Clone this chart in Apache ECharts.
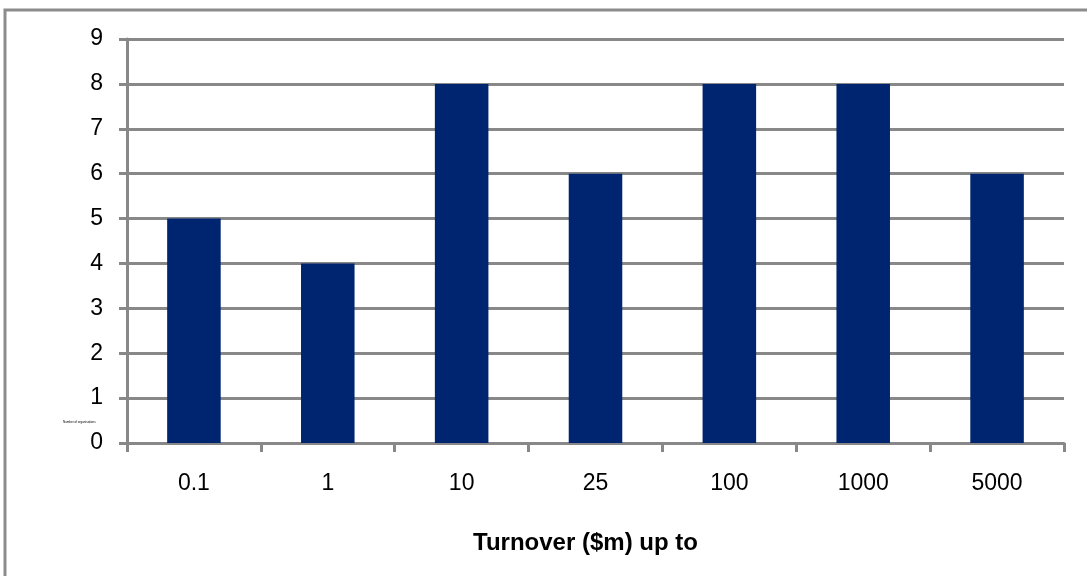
<!DOCTYPE html>
<html>
<head>
<meta charset="utf-8">
<style>
  html, body { margin: 0; padding: 0; background: #ffffff; }
  #chart { width: 1087px; height: 576px; }
</style>
<script src="https://cdn.jsdelivr.net/npm/echarts@6/dist/echarts.min.js"></script>
</head>
<body>
<div id="chart"></div>
<script>
// Organisations by turnover band
const turnoverBands = ['0.1', '1', '10', '25', '100', '1000', '5000'];
const organisationCounts = [5, 4, 8, 6, 8, 8, 6];
const xAxisTitle = 'Turnover ($m) up to';
const yAxisTitle = 'Number of organisations';

const gridGrey = '#888888';
const font = '"Liberation Sans", Arial, sans-serif';

const chart = echarts.init(document.getElementById('chart'), null, { renderer: 'canvas' });

chart.setOption({
  animation: false,
  backgroundColor: '#ffffff',
  graphic: [
    {
      type: 'rect',
      shape: { x: 5, y: 10, width: 1100, height: 600 },
      style: { fill: 'none', stroke: '#8c8c8c', lineWidth: 3 },
      silent: true
    },
    {
      type: 'text',
      left: 63,
      top: 421,
      style: { text: yAxisTitle, font: '3px ' + font, fill: '#000000' },
      silent: true
    }
  ],
  grid: { left: 127, right: 23, top: 39, bottom: 133, containLabel: false },
  xAxis: {
    type: 'category',
    data: turnoverBands,
    name: xAxisTitle,
    nameLocation: 'middle',
    nameGap: 88,
    nameTextStyle: { fontFamily: font, fontSize: 24, fontWeight: 'bold', color: '#000000', padding: [0, 20, 0, 0] },
    axisLine: { show: true, lineStyle: { color: gridGrey, width: 3 } },
    axisTick: { show: true, alignWithLabel: false, length: 9, lineStyle: { color: gridGrey, width: 3 } },
    axisLabel: { fontFamily: font, fontSize: 23, color: '#000000', margin: 29 },
    splitLine: { show: false }
  },
  yAxis: {
    type: 'value',
    min: 0,
    max: 9,
    interval: 1,
    axisLine: { show: true, lineStyle: { color: gridGrey, width: 3 } },
    axisTick: { show: true, length: 8, lineStyle: { color: gridGrey, width: 3 } },
    axisLabel: { fontFamily: font, fontSize: 23, color: '#000000', margin: 24 },
    splitLine: { show: true, lineStyle: { color: gridGrey, width: 3 } }
  },
  series: [
    {
      type: 'bar',
      data: organisationCounts,
      barWidth: '40%',
      itemStyle: { color: '#002570' },
      z: 3
    }
  ]
});
</script>
</body>
</html>
